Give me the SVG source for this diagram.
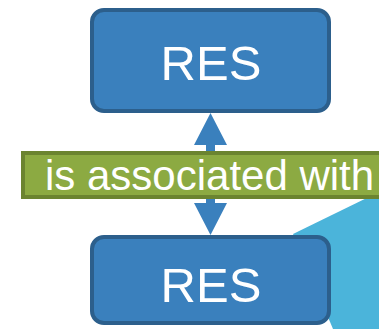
<svg xmlns="http://www.w3.org/2000/svg" width="379" height="329" viewBox="0 0 379 329">
  <style>
    .box { fill: #3A80BD; stroke: #2C5F8C; stroke-width: 4; }
    .boxtext { fill: #FFFFFF; font-family: "Liberation Sans", Arial, sans-serif; font-size: 49px; text-anchor: middle; }
    .label { fill: #8CAA42; stroke: #6B8430; stroke-width: 4; }
    .labeltext { fill: #FFFFFF; font-family: "Liberation Sans", Arial, sans-serif; font-size: 42px; }
    .arrow { fill: #3A80BD; }
  </style>
  <polygon points="293,234 379,192 379,329 333,329" fill="#4BB4DA"/>
  <g id="connectors">
    <polygon class="arrow" points="210.5,113 227,145 215,145 215,203 227,203 210.5,235 194,203 206,203 206,145 194,145"/>
  </g>
  <g id="node-top">
    <rect class="box" x="92" y="10" width="237" height="101" rx="12" ry="12"/>
    <text class="boxtext" x="211" y="80">RES</text>
  </g>
  <g id="node-bottom">
    <rect class="box" x="92" y="237" width="237" height="86" rx="12" ry="12"/>
    <text class="boxtext" x="211" y="302">RES</text>
  </g>
  <g id="label">
    <rect class="label" x="23" y="153" width="370" height="44"/>
    <text class="labeltext" x="45" y="190">is associated with</text>
  </g>
</svg>
